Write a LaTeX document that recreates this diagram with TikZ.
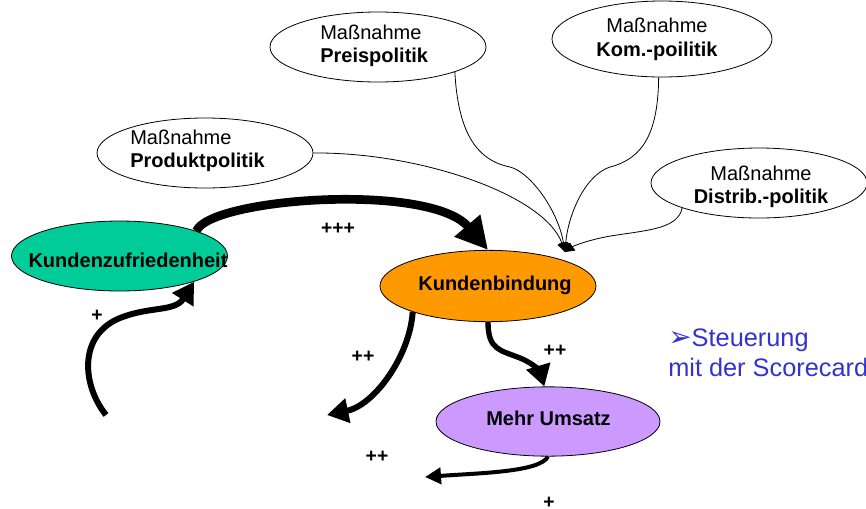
\documentclass[tikz,border=0pt]{standalone}
\usepackage{fontspec}
\setmainfont{Liberation Sans}
\newfontfamily\dejavu{DejaVu Sans}
\usetikzlibrary{shapes.geometric,arrows.meta}

\definecolor{zufrieden}{HTML}{00CC99}
\definecolor{bindung}{HTML}{FF9900}
\definecolor{umsatz}{HTML}{CC99FF}
\definecolor{steuer}{HTML}{3333CC}

\tikzset{
  oval/.style={ellipse, draw=black, line width=0.6pt, inner sep=0pt,
    minimum width=162pt, minimum height=52.5pt},
  word/.style={inner sep=0pt, anchor=base west, font=\fontsize{15}{17}\selectfont},
  boldword/.style={word, font=\fontsize{15}{17}\selectfont\bfseries},
  ctext/.style={inner sep=0pt, anchor=base, font=\fontsize{15}{17}\selectfont\bfseries},
  sign/.style={inner sep=0pt, font=\fontsize{14.5}{16}\selectfont\bfseries},
  feed/.style={line width=0.6pt, -{Triangle[length=7pt,width=7pt]}},
  heavy/.style={line width=#1, line cap=butt},
  blue text/.style={inner sep=0pt, anchor=base west, text=steuer,
    font=\fontsize{19}{21}\selectfont}
}

\begin{document}
\begin{tikzpicture}[x=0.75pt,y=-0.75pt]
  \useasboundingbox[fill=white] (0,0) rectangle (866,508);

  % measures (white ovals)
  \node[oval] (pp) at (205,153) {};
  \node[word] (pp1) at (130,144) {Maßnahme};
  \node[boldword] (pp2) at (130,167) {Produktpolitik};

  \node[oval] (pr) at (378,47) {};
  \node[word] (pr1) at (320,39) {Maßnahme};
  \node[boldword] (pr2) at (320,62) {Preispolitik};

  \node[oval, minimum width=165pt, minimum height=57pt] (kom) at (662,39) {};
  \node[ctext, font=\fontsize{15}{17}\selectfont] (kom1) at (657,32) {Maßnahme};
  \node[ctext] (kom2) at (657,56) {Kom.-poilitik};

  \node[oval] (dis) at (759,183) {};
  \node[ctext, font=\fontsize{15}{17}\selectfont] (dis1) at (761,180) {Maßnahme};
  \node[ctext] (dis2) at (761,203) {Distrib.-politik};

  % main chain
  \node[oval, fill=zufrieden] (kz) at (119.5,256) {};
  \node[ctext] (kzt) at (128,267) {Kundenzufriedenheit};

  \node[oval, fill=bindung, minimum height=53.5pt] (kb) at (488,286) {};
  \node[ctext] (kbt) at (495,290) {Kundenbindung};

  \node[oval, fill=umsatz, minimum width=168pt, minimum height=52pt] (mu) at (548,421.5) {};
  \node[ctext] (mut) at (548.5,425) {Mehr Umsatz};

  % free ends
  \coordinate (hub) at (565,252);
  \coordinate (loopstart) at (106,415);
  \coordinate (leftend) at (327,415);
  \coordinate (lowend) at (425,477);

  % thin feeds from the measures
  \draw[feed] (pp.east) .. controls (420,152) and (545,195) .. (hub);
  \draw[feed] (pr.-18) .. controls (458,130) and (475,160) .. (510,167)
                       .. controls (530,172) and (558,210) .. (hub);
  \draw[feed] (kom.-95) .. controls (658,130) and (645,158) .. (610,167)
                        .. controls (585,175) and (568,215) .. (hub);
  \draw[feed] (dis.198) .. controls (678,228) and (650,230) .. (617,235)
                        .. controls (595,238) and (575,245) .. (hub);

  % heavy effect arrows
  \draw[heavy=6.5pt, -{Triangle[length=24pt,width=24pt]}]
    (kz.18) .. controls (210,198) and (430,182) .. (kb.north);
  \draw[heavy=4.5pt, -{Triangle[length=16pt,width=18pt]}]
    (loopstart) .. controls (82,385) and (78,335) .. (120,318)
                .. controls (150,306) and (175,312) .. (kz.-19);
  \draw[heavy=4.5pt, -{Triangle[length=16pt,width=18pt]}]
    (kb.199) .. controls (410,355) and (375,405) .. (leftend);
  \draw[heavy=4pt, -{Triangle[length=16pt,width=18pt]}]
    (kb.south) .. controls (488,350) and (500,350) .. (520,358)
               .. controls (533,363) and (540,372) .. (mu.96);
  \draw[heavy=3pt, -{Triangle[length=12pt,width=12pt]}]
    (mu.south) .. controls (540,472) and (480,473) .. (lowend);

  % strength labels
  \node[sign] (s1) at (338,229) {+++};
  \node[sign] (s2) at (97,316) {+};
  \node[sign] (s3) at (363,357) {++};
  \node[sign] (s4) at (555,351) {++};
  \node[sign] (s5) at (377,457) {++};
  \node[sign] (s6) at (549,503) {+};

  % steering note
  \node[blue text] (st1) at (668,346) {{\dejavu\fontsize{21}{21}\selectfont ➢}Steuerung};
  \node[blue text] (st2) at (668,376) {mit der Scorecard};
\end{tikzpicture}
\end{document}
